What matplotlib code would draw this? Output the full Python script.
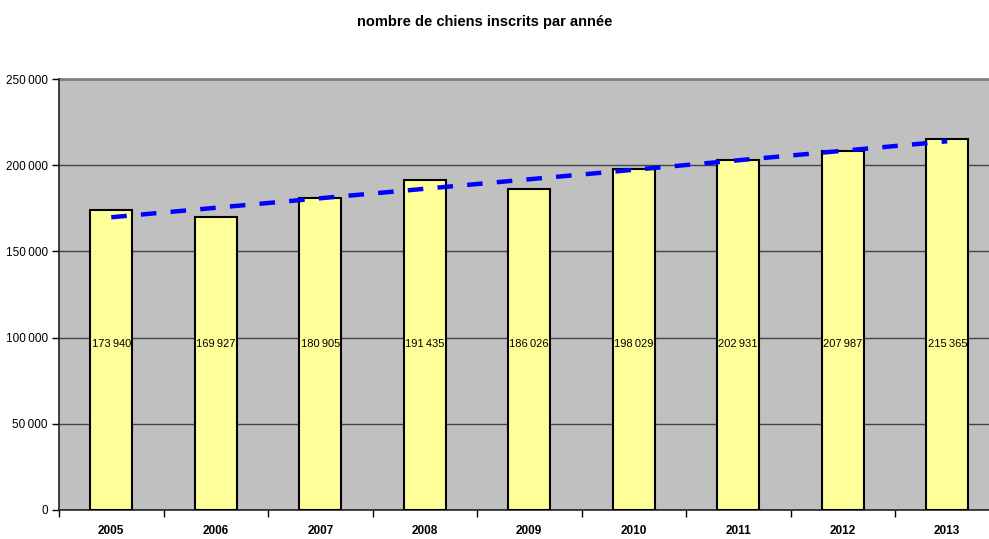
import matplotlib
matplotlib.use("Agg")
import matplotlib.pyplot as plt
import numpy as np
from matplotlib.ticker import FixedLocator

years = ["2005", "2006", "2007", "2008", "2009", "2010", "2011", "2012", "2013"]
dogs = [173940, 169927, 180905, 191435, 186026, 198029, 202931, 207987, 215365]
yticks = [0, 50000, 100000, 150000, 200000, 250000]

plt.rcParams['font.family'] = ['Liberation Sans', 'DejaVu Sans']

def fmt(v):
    s = f"{v:,}".replace(",", "\u2009")
    return s

fig = plt.figure(figsize=(9.89, 5.39), dpi=100)
ax = fig.add_axes([59/989, 29/539, 940.5/989, 431/539])
ax.set_facecolor("#C0C0C0")

x = np.arange(len(years))
ax.bar(x, dogs, width=0.40, color="#FFFF99", edgecolor="black", linewidth=1.5, zorder=3)

for xi, v in zip(x, dogs):
    ax.text(xi, 96000, fmt(v), ha="center", va="center", fontsize=8, zorder=5)

coef = np.polyfit(x, dogs, 1)
trend = np.polyval(coef, x)
ax.plot(x, trend, color="#0000FF", linewidth=3.2, linestyle=(0, (3.5, 3.2)), zorder=4)

ax.set_xlim(-0.5, len(years) - 0.5)
ax.set_ylim(0, 250000)
ax.set_yticks(yticks)
ax.set_yticklabels([fmt(v) for v in yticks], fontsize=8.5)
ax.yaxis.grid(True, color="#444444", linewidth=1.0, zorder=1)
ax.set_axisbelow(True)

ax.set_xticks(x)
ax.set_xticklabels(years, fontsize=8.5, fontweight="bold")
ax.tick_params(axis="x", which="major", length=0, pad=11)
ax.xaxis.set_minor_locator(FixedLocator(np.arange(-0.5, len(years), 1.0)))
ax.tick_params(axis="x", which="minor", length=5, width=1, color="black", direction="out")
ax.tick_params(axis="y", length=5, width=1, direction="out", pad=3)

for s in ["top", "right"]:
    ax.spines[s].set_visible(False)
ax.spines["left"].set_color("#222222")
ax.spines["left"].set_linewidth(1.2)
ax.spines["bottom"].set_color("#222222")
ax.spines["bottom"].set_linewidth(1.2)
ax.axhline(250000, color="#808080", linewidth=2, zorder=2, clip_on=False)

fig.text(485/989, 1 - 22/539, "nombre de chiens inscrits par année", ha="center", va="center",
         fontsize=10.5, fontweight="bold")

fig.savefig("out.png", dpi=100)
